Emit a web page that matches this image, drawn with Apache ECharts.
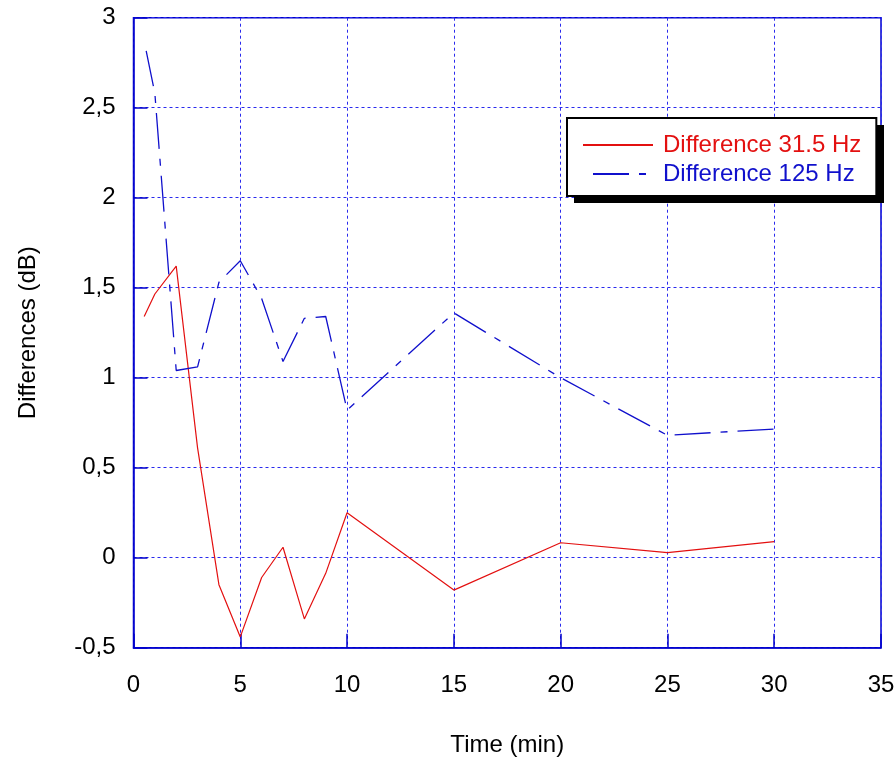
<!DOCTYPE html>
<html>
<head>
<meta charset="utf-8">
<title>Differences</title>
<script src="https://cdn.jsdelivr.net/npm/echarts@6/dist/echarts.min.js"></script>
<style>
    html, body {margin: 0; padding: 0; background: #fff;}
    #chart {width: 896px; height: 758px;}
</style>
</head>
<body>
<div id="chart"></div>
<script>
var timeMin = [0.5, 1, 2, 3, 4, 5, 6, 7, 8, 9, 10, 15, 20, 25, 30];
var diff315 = [1.34, 1.465, 1.62, 0.61, -0.15, -0.44, -0.11, 0.058, -0.34, -0.087, 0.25, -0.18, 0.083, 0.028, 0.089];
var diff125 = [2.87, 2.58, 1.04, 1.06, 1.53, 1.65, 1.44, 1.09, 1.33, 1.34, 0.82, 1.36, 1.0, 0.68, 0.715];
var xTicks = [0, 5, 10, 15, 20, 25, 30, 35];
var yTicks = [-0.5, 0, 0.5, 1, 1.5, 2, 2.5, 3];

var seriesNames = ['Difference 31.5 Hz', 'Difference 125 Hz'];
var seriesColors = ['#e31010', '#1010cc'];
var font = "'Liberation Sans', Arial, sans-serif";
var frameBlue = '#0000cc';
var gridBlue = '#2a2aee';

function pairs(xs, ys) {
    var out = [];
    for (var i = 0; i < xs.length; i++) {
        out.push([xs[i], ys[i]]);
    }
    return out;
}

var chart = echarts.init(document.getElementById('chart'));

var option = {
    backgroundColor: '#fff',
    animation: false,
    grid: {
        left: 133.5,
        right: 15,
        top: 17.7,
        bottom: 110.3,
        outerBoundsMode: 'none',
        containLabel: false,
        show: true,
        borderColor: frameBlue,
        borderWidth: 1.5,
        backgroundColor: 'transparent'
    },
    // legend drop shadow (black box offset behind the legend)
    graphic: [
        {
            type: 'rect',
            z: 3,
            left: 574,
            top: 125,
            shape: {width: 310, height: 78},
            style: {fill: '#000'}
        }
    ],
    legend: {
        orient: 'vertical',
        left: 567,
        top: 118,
        z: 5,
        padding: [15, 15, 10, 15],
        itemGap: 5,
        itemWidth: 70,
        itemHeight: 14,
        backgroundColor: '#fff',
        borderColor: '#000',
        borderWidth: 2,
        borderRadius: 0,
        itemStyle: {opacity: 0},
        textStyle: {
            fontFamily: font,
            fontSize: 24,
            lineHeight: 24,
            padding: [0, 0, 0, 5]
        },
        data: [
            {name: seriesNames[0], textStyle: {color: seriesColors[0]}},
            {name: seriesNames[1], textStyle: {color: seriesColors[1]}}
        ]
    },
    xAxis: {
        type: 'value',
        min: xTicks[0],
        max: xTicks[xTicks.length - 1],
        interval: 5,
        name: 'Time (min)',
        nameLocation: 'middle',
        nameGap: 86,
        nameTextStyle: {fontFamily: font, fontSize: 24, color: '#000'},
        axisLine: {show: true, onZero: false, lineStyle: {color: frameBlue, width: 1.5}},
        axisTick: {show: true, inside: true, length: 14, lineStyle: {color: frameBlue, width: 1.5}},
        axisLabel: {
            margin: 26,
            fontFamily: font,
            fontSize: 24,
            color: '#000'
        },
        splitLine: {show: true, lineStyle: {color: gridBlue, type: [3, 3], width: 1}}
    },
    yAxis: {
        type: 'value',
        min: yTicks[0],
        max: yTicks[yTicks.length - 1],
        interval: 0.5,
        name: 'Differences (dB)',
        nameLocation: 'middle',
        nameGap: 93,
        nameTextStyle: {fontFamily: font, fontSize: 24, color: '#000'},
        axisLine: {show: true, onZero: false, lineStyle: {color: frameBlue, width: 1.5}},
        axisTick: {show: true, inside: true, length: 14, lineStyle: {color: frameBlue, width: 1.5}},
        axisLabel: {
            margin: 18,
            fontFamily: font,
            fontSize: 24,
            color: '#000',
            formatter: function (v) {
                return String(v).replace('.', ',');
            }
        },
        splitLine: {show: true, lineStyle: {color: gridBlue, type: [3, 3], width: 1}}
    },
    series: [
        {
            name: seriesNames[0],
            type: 'line',
            symbol: 'none',
            color: seriesColors[0],
            lineStyle: {color: seriesColors[0], width: 1.2, type: 'solid'},
            data: pairs(timeMin, diff315)
        },
        {
            name: seriesNames[1],
            type: 'line',
            symbol: 'none',
            color: seriesColors[1],
            lineStyle: {color: seriesColors[1], width: 1.3, type: [36, 10, 7, 10], dashOffset: 53},
            data: pairs(timeMin, diff125)
        }
    ]
};

chart.setOption(option);
</script>
</body>
</html>
